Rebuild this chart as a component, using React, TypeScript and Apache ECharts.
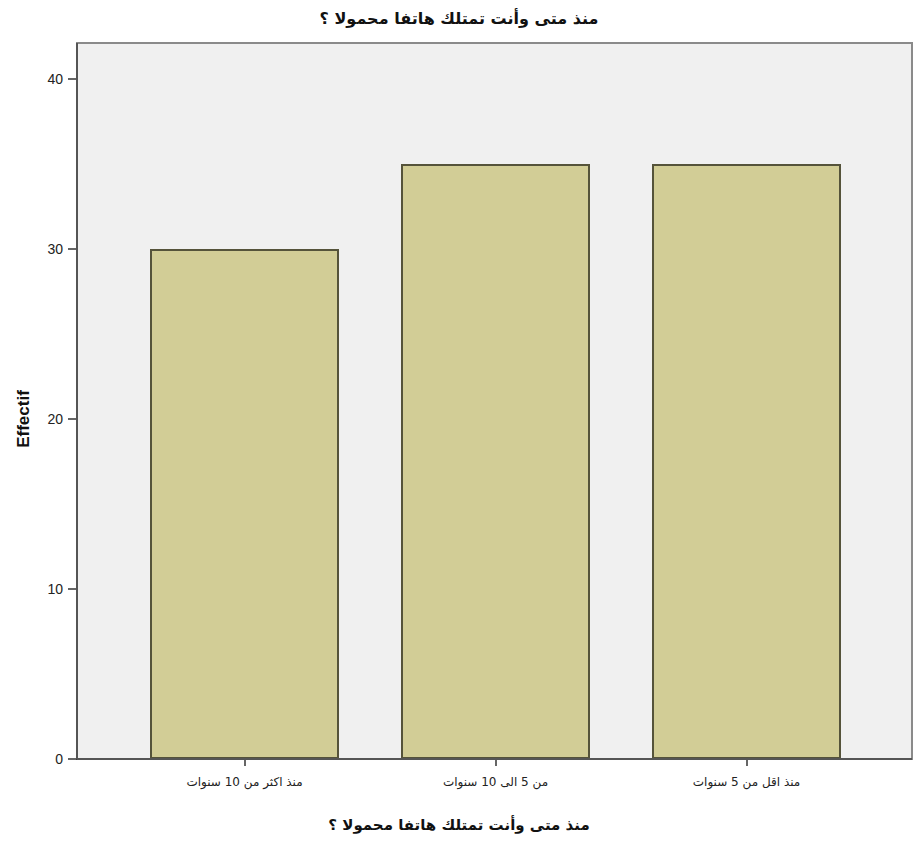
import React, { useEffect, useRef } from "react";
import * as echarts from "echarts";

const titleText = "منذ متى وأنت تمتلك هاتفا محمولا ؟";
const categories = ["منذ اكثر من 10 سنوات", "من 5 الى 10 سنوات", "منذ اقل من 5 سنوات"];
const counts = [30, 35, 35];
const yAxisName = "Effectif";
const yMax = 40;
const yStep = 10;

export default function App() {
  const ref = useRef<HTMLDivElement>(null);
  useEffect(() => {
    if (!ref.current) return;
    const chart = echarts.init(ref.current, null, { renderer: "svg" });
    chart.setOption({
      animation: false,
      backgroundColor: "#ffffff",
      title: {
        text: titleText,
        left: "center",
        top: 5,
        textStyle: { fontFamily: "DejaVu Sans", fontWeight: "bold", fontSize: 16, color: "#111" },
      },
      graphic: [
        {
          type: "rect",
          z: -10,
          shape: { x: 77, y: 43, width: 835, height: 716 },
          style: { fill: "#f0f0f0", stroke: "#8a8a8a", lineWidth: 2 },
        },
        {
          type: "line",
          z: 50,
          shape: { x1: 77, y1: 759, x2: 912, y2: 759 },
          style: { stroke: "#555", lineWidth: 2 },
        },
        {
          type: "line",
          z: 50,
          shape: { x1: 77, y1: 43, x2: 77, y2: 759 },
          style: { stroke: "#555", lineWidth: 2 },
        },
        {
          type: "text",
          left: "center",
          top: 817,
          style: {
            text: titleText,
            font: "bold 15px 'DejaVu Sans'",
            fill: "#111",
          },
        },
      ],
      grid: { left: 119, right: 46, top: 79, bottom: 84 },
      xAxis: {
        type: "category",
        data: categories,
        axisLine: { show: false },
        axisTick: { show: true, alignWithLabel: true, length: 7, lineStyle: { color: "#333", width: 1.5 } },
        axisLabel: { fontFamily: "DejaVu Sans", fontSize: 12, color: "#222", margin: 17 },
      },
      yAxis: {
        type: "value",
        min: 0,
        max: yMax,
        interval: yStep,
        offset: 42,
        name: yAxisName,
        nameLocation: "middle",
        nameGap: 45,
        nameTextStyle: { fontFamily: "Liberation Sans", fontWeight: "bold", fontSize: 17, color: "#111" },
        axisLine: { show: true, lineStyle: { color: "#555", width: 2 } },
        axisTick: { show: true, inside: false, length: 9, lineStyle: { color: "#333", width: 1.5 } },
        axisLabel: {
          fontFamily: "Liberation Sans",
          fontSize: 14,
          color: "#222",
          margin: 14,
        },
        splitLine: { show: false },
      },
      series: [
        {
          type: "bar",
          data: counts,
          barWidth: 189,
          itemStyle: { color: "#d2cd96", borderColor: "#55533a", borderWidth: 2 },
        },
      ],
    });
    return () => chart.dispose();
  }, []);
  return <div ref={ref} style={{ position: "absolute", left: 0, top: 0, width: 918, height: 843 }} />;
}
